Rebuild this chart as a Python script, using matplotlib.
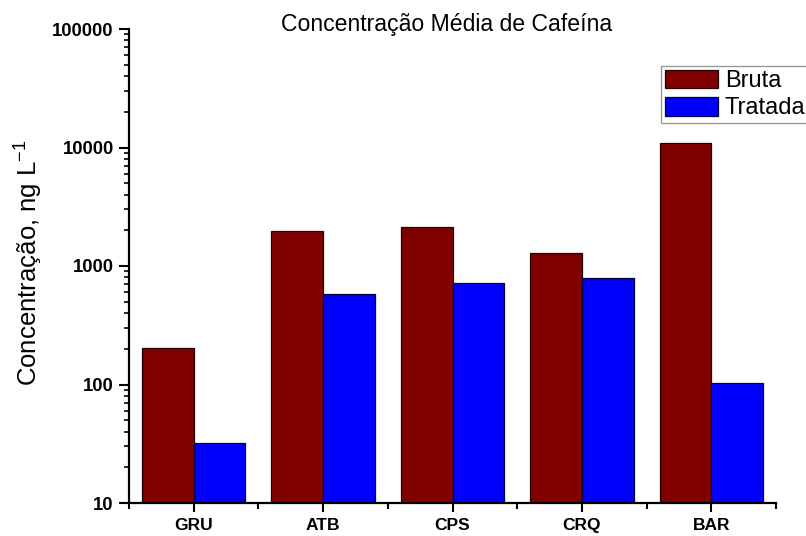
import numpy as np
import matplotlib
matplotlib.use("Agg")
import matplotlib.pyplot as plt
from matplotlib.ticker import FixedLocator, LogLocator, NullFormatter, FixedFormatter

plt.rcParams['font.family'] = ['Liberation Sans', 'DejaVu Sans']
plt.rcParams['mathtext.default'] = 'regular'

# mean caffeine concentration (ng/L) per sampling site
sites = ["GRU", "ATB", "CPS", "CRQ", "BAR"]
bruta = [204, 1970, 2150, 1295, 10840]
tratada = [32.3, 584, 723, 797, 103.5]

fig = plt.figure(figsize=(8.06, 5.36), dpi=100)
ax = fig.add_axes([129/806, 1 - 503/536, (776 - 129)/806, (503 - 29)/536])

x = np.arange(1, len(sites) + 1)
w = 0.4
ax.bar(x - w/2, bruta, w, color="#800000", edgecolor="#200000", linewidth=0.9, label="Bruta")
ax.bar(x + w/2, tratada, w, color="#0000FF", edgecolor="#000040", linewidth=0.9, label="Tratada")

ax.set_yscale("log")
ax.set_ylim(10, 100000)
ax.set_xlim(0.5, 5.5)

# only left/bottom axis lines
for s in ["top", "right"]:
    ax.spines[s].set_visible(False)
for s in ["left", "bottom"]:
    ax.spines[s].set_linewidth(1.6)

ax.yaxis.set_major_locator(FixedLocator([10, 100, 1000, 10000, 100000]))
ax.yaxis.set_major_formatter(FixedFormatter(["10", "100", "1000", "10000", "100000"]))
ax.yaxis.set_minor_locator(LogLocator(base=10, subs=np.arange(2, 10)))
ax.yaxis.set_minor_formatter(NullFormatter())

ax.set_xticks(x)
ax.set_xticklabels(sites)
ax.set_xticks(np.arange(0.5, 6.0, 1.0), minor=True)

ax.tick_params(axis="y", which="major", direction="out", length=7, width=1.5, labelsize=13.3, pad=4)
ax.tick_params(axis="y", which="minor", direction="out", length=3.5, width=1.2)
ax.tick_params(axis="x", which="major", direction="out", length=6.5, width=1.5, labelsize=12.5, pad=4.5)
ax.tick_params(axis="x", which="minor", direction="out", length=4, width=1.5)
for lbl in ax.get_xticklabels() + ax.get_yticklabels():
    lbl.set_fontweight("bold")

ax.set_ylabel("Concentração, ng L$^{-1}$", fontsize=18.5)
ax.yaxis.set_label_coords(-0.130, 0.507)

fig.text(447/806, 1 - 24/536, "Concentração Média de Cafeína", fontsize=16.6,
         ha="center", va="center")

leg = ax.legend(loc="upper left", bbox_to_anchor=(661/806, 1 - 66/536),
                bbox_transform=fig.transFigure, fontsize=17, frameon=True,
                fancybox=False, edgecolor="#808080", handlelength=2.25,
                handleheight=0.85, handletextpad=0.3, labelspacing=0.2,
                borderpad=0.15, borderaxespad=0)
leg.get_frame().set_linewidth(1.0)

fig.savefig("out.png", dpi=100)
